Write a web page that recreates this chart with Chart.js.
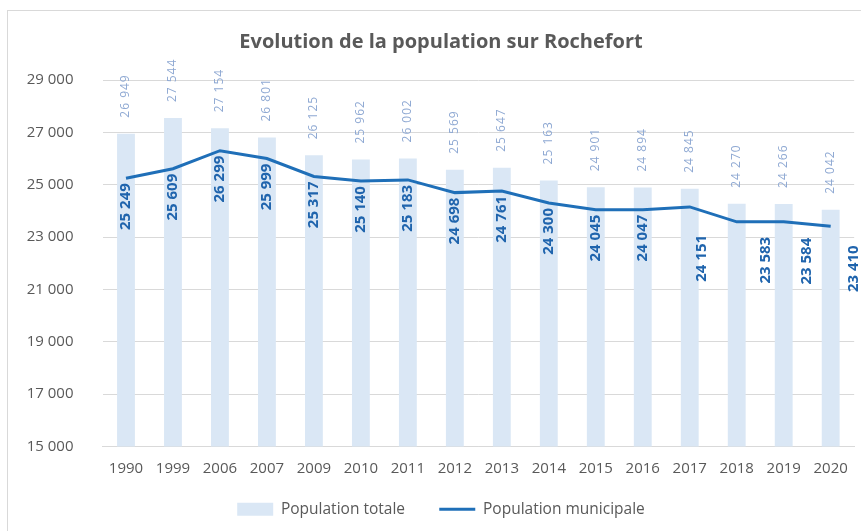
<!DOCTYPE html>
<html>
<head>
<meta charset="utf-8">
<script src="https://cdn.jsdelivr.net/npm/chart.js@4.4.0/dist/chart.umd.min.js"></script>
<style>
  body { margin: 0; background: #fff; overflow: hidden; }
  #frame { position: absolute; left: 7px; top: 10px; width: 900px; height: 560px; border: 1px solid #d9d9d9; }
  #c { position: absolute; left: 0; top: 0; }
</style>
</head>
<body>
<div id="frame"></div>
<canvas id="c" width="861" height="531"></canvas>
<script>
// data
const years = ['1990','1999','2006','2007','2009','2010','2011','2012','2013','2014','2015','2016','2017','2018','2019','2020'];
const popTotale = [26949,27544,27154,26801,26125,25962,26002,25569,25647,25163,24901,24894,24845,24270,24266,24042];
const popMunicipale = [25249,25609,26299,25999,25317,25140,25183,24698,24761,24300,24045,24047,24151,23583,23584,23410];
const yTicks = [15000,17000,19000,21000,23000,25000,27000,29000];

const fmt = v => String(v).replace(/\B(?=(\d{3})+(?!\d))/g, ' ');
const FONT = "'Open Sans', sans-serif";

// label nudges (index -> [dx, dy]) for the last municipal labels, as moved in the original
const lineLabelShift = {12: [12, 23], 13: [29, 10], 14: [23, 11], 15: [23, 14]};

const valueLabels = {
  id: 'valueLabels',
  afterDatasetsDraw(chart) {
    const ctx = chart.ctx;
    // bar labels
    chart.getDatasetMeta(0).data.forEach((bar, i) => {
      ctx.save();
      ctx.translate(bar.x, bar.y - 16);
      ctx.rotate(-Math.PI / 2);
      ctx.font = '12px ' + FONT;
      ctx.letterSpacing = '1px';
      ctx.fillStyle = '#8fa9d3';
      ctx.textAlign = 'left';
      ctx.textBaseline = 'middle';
      ctx.fillText(fmt(popTotale[i]), 0, 0);
      ctx.restore();
    });
    // line labels
    chart.getDatasetMeta(1).data.forEach((pt, i) => {
      const s = lineLabelShift[i] || [0, 0];
      ctx.save();
      ctx.translate(pt.x + s[0], pt.y + 5 + s[1]);
      ctx.rotate(-Math.PI / 2);
      ctx.font = 'bold 15px ' + FONT;
      ctx.fillStyle = '#1f64ad';
      ctx.textAlign = 'right';
      ctx.textBaseline = 'middle';
      ctx.fillText(fmt(popMunicipale[i]), 0, 0);
      ctx.restore();
    });
  }
};

const padLeft = 26;

const ctx = document.getElementById('c').getContext('2d');
const chart = new Chart(ctx, {
  type: 'bar',
  data: {
    labels: years,
    datasets: [{
      type: 'bar',
      label: 'Population totale',
      data: popTotale,
      backgroundColor: '#dae7f5',
      borderWidth: 0,
      categoryPercentage: 1,
      barPercentage: 0.38,
      pointStyle: 'rect',
      order: 2
    }, {
      type: 'line',
      label: 'Population municipale',
      data: popMunicipale,
      borderColor: '#1f6fb8',
      backgroundColor: '#1f6fb8',
      borderWidth: 3,
      pointRadius: 0,
      pointStyle: 'line',
      tension: 0,
      order: 1
    }]
  },
  options: {
    responsive: false,
    animation: false,
    layout: { padding: { left: padLeft, right: 5, bottom: 4 } },
    plugins: {
      title: {
        display: true,
        text: 'Evolution de la population sur Rochefort',
        color: '#595959',
        font: { family: FONT, size: 20, weight: 'bold' },
        padding: { top: 30, bottom: 26 }
      },
      legend: {
        position: 'bottom',
        labels: {
          usePointStyle: true,
          pointStyleWidth: 36,
          boxHeight: 13,
          color: '#595959',
          font: { family: FONT, size: 15.5 },
          padding: 11,
          sort: (a, b) => a.datasetIndex - b.datasetIndex,
          generateLabels: chart => {
            const items = Chart.defaults.plugins.legend.labels.generateLabels(chart);
            // widen the gap between the two entries
            items.forEach(it => { if (it.datasetIndex === 0) it.text += '\u2003\u2002'; });
            return items;
          }
        }
      },
      tooltip: { enabled: false }
    },
    scales: {
      x: {
        grid: { display: false, drawTicks: false },
        border: { display: true, color: '#d9d9d9' },
        ticks: { color: '#595959', font: { family: FONT, size: 15 }, padding: 13, maxRotation: 0 }
      },
      y: {
        min: 15000,
        max: 29000,
        afterBuildTicks: s => { s.ticks = yTicks.map(v => ({ value: v })); },
        afterFit: s => { s.width = 102.5 - padLeft; },
        grid: { color: '#d9d9d9', drawTicks: false },
        border: { display: false },
        ticks: { color: '#595959', font: { family: FONT, size: 15 }, padding: 29, callback: v => fmt(v) }
      }
    }
  },
  plugins: [valueLabels]
});
</script>
</body>
</html>
